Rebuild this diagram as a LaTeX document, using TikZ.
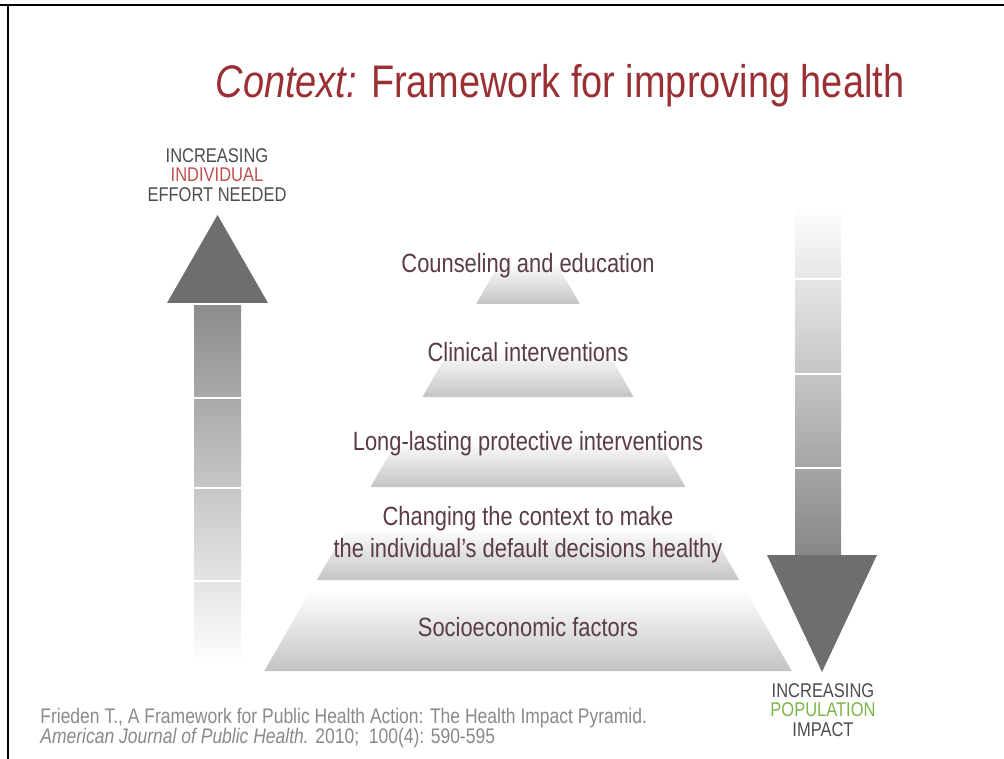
\documentclass[tikz,border=0pt]{standalone}
\usepackage{fontspec}
\setmainfont[FakeStretch=0.83]{Liberation Sans}
\usetikzlibrary{calc}
\definecolor{titlered}{RGB}{155,48,52}
\definecolor{mauve}{RGB}{90,60,70}
\definecolor{labelgray}{RGB}{77,77,77}
\definecolor{citegray}{RGB}{138,138,138}
\definecolor{indred}{RGB}{192,80,77}
\definecolor{popgreen}{RGB}{122,182,72}

\begin{document}
\begin{tikzpicture}[x=0.2mm,y=-0.2mm,
    band/.style={top color=white,middle color=black!6,bottom color=black!23},
    level/.style={text=mauve,font=\fontsize{15}{18}\selectfont,align=center,inner sep=0pt},
    sidelabel/.style={text=labelgray,font=\fontsize{11.3}{11.1}\selectfont,align=center,inner sep=0pt}]
        \useasboundingbox (0,0) rectangle (1004,759);
        \fill[white] (0,0) rectangle (1004,759);
        % Frame
        \draw[line width=1.2pt] (8,5) -- (8,759);
        \draw[line width=1.7pt] (0,5) -- (1004,5);
        % Title
        \node[text=titlered,font=\fontsize{26}{30}\selectfont,inner sep=0pt] (title) at (560,86)
            {\textit{Context:} Framework for improving health};
        % Left arrow
        \shade[top color=black!45,bottom color=white] (194,306) rectangle (241,665);
        \fill[black!57] (167,303) -- (268,303) -- (217.5,215) -- cycle;
        \draw[white,line width=0.8pt] (194,398) -- (241,398);
        \draw[white,line width=0.8pt] (194,488) -- (241,488);
        \draw[white,line width=0.8pt] (194,581) -- (241,581);
        \node[sidelabel] (effort) at (217,175)
            {INCREASING\\\textcolor{indred}{INDIVIDUAL}\\EFFORT NEEDED};
        % Right arrow
        \shade[top color=white,bottom color=black!47] (795,205) rectangle (841,555);
        \fill[black!57] (767,555) -- (877,555) -- (822,672) -- cycle;
        \draw[white,line width=0.8pt] (795,279) -- (841,279);
        \draw[white,line width=0.8pt] (795,374) -- (841,374);
        \draw[white,line width=0.8pt] (795,468) -- (841,468);
        \node[sidelabel] (impact) at (823,710)
            {INCREASING\\\textcolor{popgreen}{POPULATION}\\IMPACT};
        % Pyramid bands
        \shade[band] (500.3,262) -- (555.7,262) -- (579.9,304) -- (476.1,304) -- cycle;
        \shade[band] (449.5,350) -- (606.5,350) -- (633.6,397) -- (422.4,397) -- cycle;
        \shade[band] (397.6,440) -- (658.4,440) -- (685.5,487) -- (370.5,487) -- cycle;
        \shade[band] (346.8,528) -- (709.2,528) -- (739.2,580) -- (316.8,580) -- cycle;
        \shade[band] (311.0,590) -- (745.0,590) -- (791.7,671) -- (264.3,671) -- cycle;
        % Pyramid labels
        \node[level] (counsel) at (528,266) {Counseling and education};
        \node[level] (clinical) at (528,352) {Clinical interventions};
        \node[level] (protect) at (528,444) {Long-lasting protective interventions};
        \node[level] (context) at (528,535) {Changing the context to make\\the individual's default decisions healthy};
        \node[level] (socio) at (528,627) {Socioeconomic factors};
        % Citation
        \node[text=citegray,font=\fontsize{12}{11.5}\selectfont,align=left,anchor=west,inner sep=0pt] (cite) at (40,728)
            {Frieden T., A Framework for Public Health Action: The Health Impact Pyramid.\\
             \textit{American Journal of Public Health.} 2010;\ \ 100(4): 590-595};
      \end{tikzpicture}
\end{document}
